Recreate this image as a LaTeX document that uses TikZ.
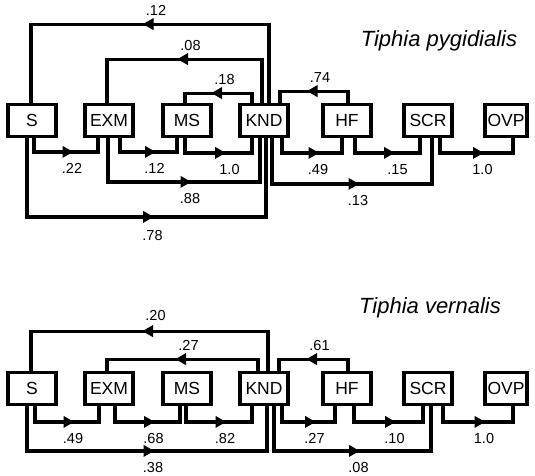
\documentclass[tikz,border=0pt]{standalone}
\usepackage{fontspec}
\setmainfont{Liberation Sans}
\usetikzlibrary{shapes.geometric}

\begin{document}
\begin{tikzpicture}[x=1pt, y=-1pt,
  every node/.style={font=\fontsize{14.5}{16}\selectfont},
  box/.style={rectangle, draw, line width=3.8pt, minimum width=48pt, minimum height=32pt, inner sep=0pt, font=\fontsize{17.5}{20}\selectfont},
  link/.style={line width=3.2pt},
  tipR/.style={regular polygon, regular polygon sides=3, shape border rotate=-90, fill, draw=none, inner sep=0pt, minimum size=14pt, pos=.25},
  tipL/.style={tipR, shape border rotate=90},
  lbdown/.style={below=10pt, inner sep=0pt, pos=.25, xshift=6pt},
  lbup/.style={above=7pt, inner sep=0pt, pos=.25, xshift=6pt},
  title/.style={font=\fontsize{22}{26}\selectfont\itshape, anchor=base}]
\path[fill=white] (0,0) rectangle (535,475);
\useasboundingbox (0,0) rectangle (535,475);

% boxes of both panels
\foreach \n/\x in {S/32,EXM/109,MS/187,KND/264,HF/347,SCR/428} {
  \node[box] (p\n) at (\x,120.5) {\n};
  \node[box] (v\n) at (\x,388.5) {\n};
}
\node[box, minimum width=42pt] (pOVP) at (506,120.5) {OVP};
\node[box, minimum width=42pt] (vOVP) at (506,388.5) {OVP};

\node[title] (tp) at (439,46.7) {Tiphia pygidialis};
\node[title] (tv) at (430,313) {Tiphia vernalis};

% Tiphia pygidialis
\draw[link] ([xshift=5]pKND.north) -- ++(0,-78.5) -| node[tipL]{} node[lbup]{.12} ([xshift=-1]pS.north);
\draw[link] ([xshift=-2]pKND.north) -- ++(0,-43.5) -| node[tipL]{} node[lbup]{.08} ([xshift=-2]pEXM.north);
\draw[link] ([xshift=-12]pKND.north) -- ++(0,-9.5) -| node[tipL]{} node[lbup]{.18} ([xshift=-2]pMS.north);
\draw[link] ([xshift=1]pHF.north) -- ++(0,-11.5) -| node[tipL]{} node[lbup]{.74} ([xshift=16]pKND.north);
\draw[link] ([xshift=2]pS.south) -- ++(0,13.5) -| node[tipR]{} node[lbdown]{.22} ([xshift=-11]pEXM.south);
\draw[link] ([xshift=11]pEXM.south) -- ++(0,13.5) -| node[tipR]{} node[lbdown]{.12} ([xshift=-10]pMS.south);
\draw[link] ([xshift=-2]pMS.south) -- ++(0,14.5) -| node[tipR]{} node[lbdown, xshift=5]{1.0} ([xshift=-12]pKND.south);
\draw[link] ([xshift=18]pKND.south) -- ++(0,14.5) -| node[tipR]{} node[lbdown]{.49} ([xshift=-5]pHF.south);
\draw[link] ([xshift=8]pHF.south) -- ++(0,14.5) -| node[tipR]{} node[lbdown, xshift=4]{.15} ([xshift=-8]pSCR.south);
\draw[link] ([xshift=12]pSCR.south) -- ++(0,14.5) -| node[tipR]{} node[lbdown]{1.0} ([xshift=7]pOVP.south);
\draw[link] ([xshift=-1]pEXM.south) -- ++(0,43.5) -| node[tipR]{} node[lbdown]{.88} ([xshift=-4]pKND.south);
\draw[link] ([xshift=-5]pS.south) -- ++(0,78.5) -| node[tipR]{} node[lbdown, yshift=-2]{.78} ([xshift=2]pKND.south);
\draw[link] ([xshift=8]pKND.south) -- ++(0,45.5) -| node[tipR]{} node[lbdown]{.13} ([xshift=4]pSCR.south);

% Tiphia vernalis
\draw[link] ([xshift=4]vKND.north) -- ++(0,-39.5) -| node[tipL]{} node[lbup, yshift=2]{.20} ([xshift=-1]vS.north);
\draw[link] ([xshift=-6]vKND.north) -- ++(0,-11.5) -| node[tipL]{} node[lbup]{.27} ([xshift=-2]vEXM.north);
\draw[link] ([xshift=1]vHF.north) -- ++(0,-11.5) -| node[tipL]{} node[lbup]{.61} ([xshift=15]vKND.north);
\draw[link] ([xshift=3]vS.south) -- ++(0,15.5) -| node[tipR]{} node[lbdown]{.49} ([xshift=-10]vEXM.south);
\draw[link] ([xshift=6]vEXM.south) -- ++(0,15.5) -| node[tipR]{} node[lbdown]{.68} ([xshift=-7]vMS.south);
\draw[link] ([xshift=-1]vMS.south) -- ++(0,15.5) -| node[tipR]{} node[lbdown]{.82} ([xshift=-12]vKND.south);
\draw[link] ([xshift=18]vKND.south) -- ++(0,15.5) -| node[tipR]{} node[lbdown]{.27} ([xshift=-12]vHF.south);
\draw[link] ([xshift=7]vHF.south) -- ++(0,15.5) -| node[tipR]{} node[lbdown]{.10} ([xshift=-5]vSCR.south);
\draw[link] ([xshift=15]vSCR.south) -- ++(0,15.5) -| node[tipR]{} node[lbdown]{1.0} ([xshift=7]vOVP.south);
\draw[link] ([xshift=-5]vS.south) -- ++(0,44.5) -| node[tipR]{} node[lbdown]{.38} ([xshift=3]vKND.south);
\draw[link] ([xshift=10]vKND.south) -- ++(0,44.5) -| node[tipR]{} node[lbdown]{.08} ([xshift=3]vSCR.south);
\end{tikzpicture}
\end{document}
